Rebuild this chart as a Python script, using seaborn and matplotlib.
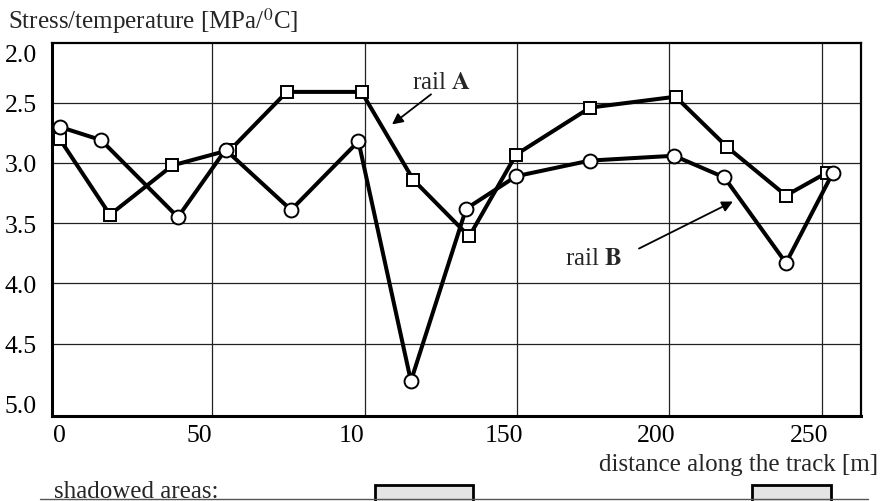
import matplotlib
matplotlib.use("Agg")
import matplotlib.pyplot as plt
import matplotlib.transforms as mtransforms
from matplotlib.patches import Rectangle
import seaborn as sns

# Measured stress/temperature ratio along the track for the two rails
rail_a_dist = [0, 16.5, 37, 56, 74.5, 99, 116, 134.3, 149.7, 174, 202, 219, 238.2, 251.6]
rail_a_ratio = [2.80, 3.43, 3.02, 2.89, 2.41, 2.41, 3.14, 3.61, 2.93, 2.54, 2.45, 2.87, 3.27, 3.08]

rail_b_dist = [0, 13.6, 38.8, 54.4, 75.9, 98, 115.2, 133.3, 149.7, 173.9, 201.5, 218, 238.2, 253.6]
rail_b_ratio = [2.70, 2.81, 3.45, 2.89, 3.39, 2.82, 4.81, 3.38, 3.11, 2.98, 2.94, 3.12, 3.83, 3.08]

# Track sections lying in shadow
shadow_start = [103.4, 227.0]
shadow_end = [135.6, 252.9]

x_ticks = [0, 50, 100, 150, 200, 250]
x_tick_labels = ["0", "50", "10", "150", "200", "250"]
y_ticks = [2.0, 2.5, 3.0, 3.5, 4.0, 4.5, 5.0]
y_tick_labels = ["2.0", "2.5", "3.0", "3.5", "4.0", "4.5", "5.0"]
grid_x = [50, 100, 150, 200, 250]
grid_y = [2.5, 3.0, 3.5, 4.0, 4.5]

sns.set_style("white")
plt.rcParams["font.family"] = ["Liberation Serif", "DejaVu Serif"]
plt.rcParams["mathtext.fontset"] = "stix"

fig = plt.figure(figsize=(8.85, 5.02), dpi=100)
ax = fig.add_axes([52 / 885, 1 - 417 / 502, (861 - 52) / 885, (417 - 43.5) / 502])

for gx in grid_x:
    ax.axvline(gx, color="#222222", lw=0.9, zorder=1)
for gy in grid_y:
    ax.axhline(gy, color="#222222", lw=0.9, zorder=1)

line_kw = dict(color="black", linewidth=2.9, markerfacecolor="white",
               markeredgecolor="black", markeredgewidth=1.4, sort=False,
               estimator=None, legend=False, ax=ax, zorder=3)
sns.lineplot(x=rail_a_dist, y=rail_a_ratio, marker="s", markersize=9, **line_kw)
sns.lineplot(x=rail_b_dist, y=rail_b_ratio, marker="o", markersize=10, **line_kw)

ax.set_xlim(-2.5, 262.8)
ax.set_ylim(5.1, 2.0)
ax.set_xticks(x_ticks)
ax.set_xticklabels(x_tick_labels)
ax.set_yticks(y_ticks)
ax.set_yticklabels(y_tick_labels)
ax.tick_params(axis="both", length=0, labelsize=18.5, colors="black")
ax.tick_params(axis="x", pad=6)
ax.tick_params(axis="y", pad=11)
ax.set_xlabel("")
ax.set_ylabel("")

# Tick label placement: x labels sit left of their gridlines, top y label below the frame
for lbl in ax.get_xticklabels()[1:]:
    lbl.set_transform(lbl.get_transform() +
                      mtransforms.ScaledTranslation(-13 / 100, 0, fig.dpi_scale_trans))
top_lbl = ax.get_yticklabels()[0]
top_lbl.set_transform(top_lbl.get_transform() +
                      mtransforms.ScaledTranslation(0, -10 / 100, fig.dpi_scale_trans))

for side in ["left", "bottom"]:
    ax.spines[side].set_linewidth(2.2)
for side in ["top", "right"]:
    ax.spines[side].set_linewidth(1.6)
for sp in ax.spines.values():
    sp.set_color("black")
    sp.set_visible(True)

# Rail labels with pointing arrows
ax.annotate("", xy=(109.0, 2.68), xytext=(121.8, 2.43),
            arrowprops=dict(arrowstyle="-|>", color="black", lw=1.3,
                            mutation_scale=16, shrinkA=0, shrinkB=0), zorder=4)
ax.text(125.2, 2.33, r"rail $\mathbf{A}$", fontsize=18, ha="center", va="center", zorder=4)
ax.annotate("", xy=(220.8, 3.32), xytext=(190.0, 3.71),
            arrowprops=dict(arrowstyle="-|>", color="black", lw=1.3,
                            mutation_scale=16, shrinkA=0, shrinkB=0), zorder=4)
ax.text(175.2, 3.79, r"rail $\mathbf{B}$", fontsize=18, ha="center", va="center", zorder=4)

fig.text(8 / 885, 1 - 21 / 502, r"Stress/temperature [MPa/$^{0}$C]", fontsize=18,
         ha="left", va="center")
fig.text(878 / 885, 1 - 465 / 502, "distance along the track [m]", fontsize=18,
         ha="right", va="center")

# Strip below the chart marking the shadowed sections
fig.add_artist(plt.Line2D([40 / 885, 868 / 885], [2 / 502, 2 / 502],
                          transform=fig.transFigure, color="#555555", lw=1.0))
fig.text(54 / 885, 4 / 502, "shadowed areas:", fontsize=18, ha="left", va="baseline")
blend = mtransforms.blended_transform_factory(ax.transData, fig.transFigure)
for s, e in zip(shadow_start, shadow_end):
    fig.add_artist(Rectangle((s, -0.02), e - s, 0.02 + 16 / 502, transform=blend,
                             facecolor="#e4e4e4", edgecolor="black", lw=2.0,
                             clip_on=False))

fig.savefig("out.png", dpi=100)
